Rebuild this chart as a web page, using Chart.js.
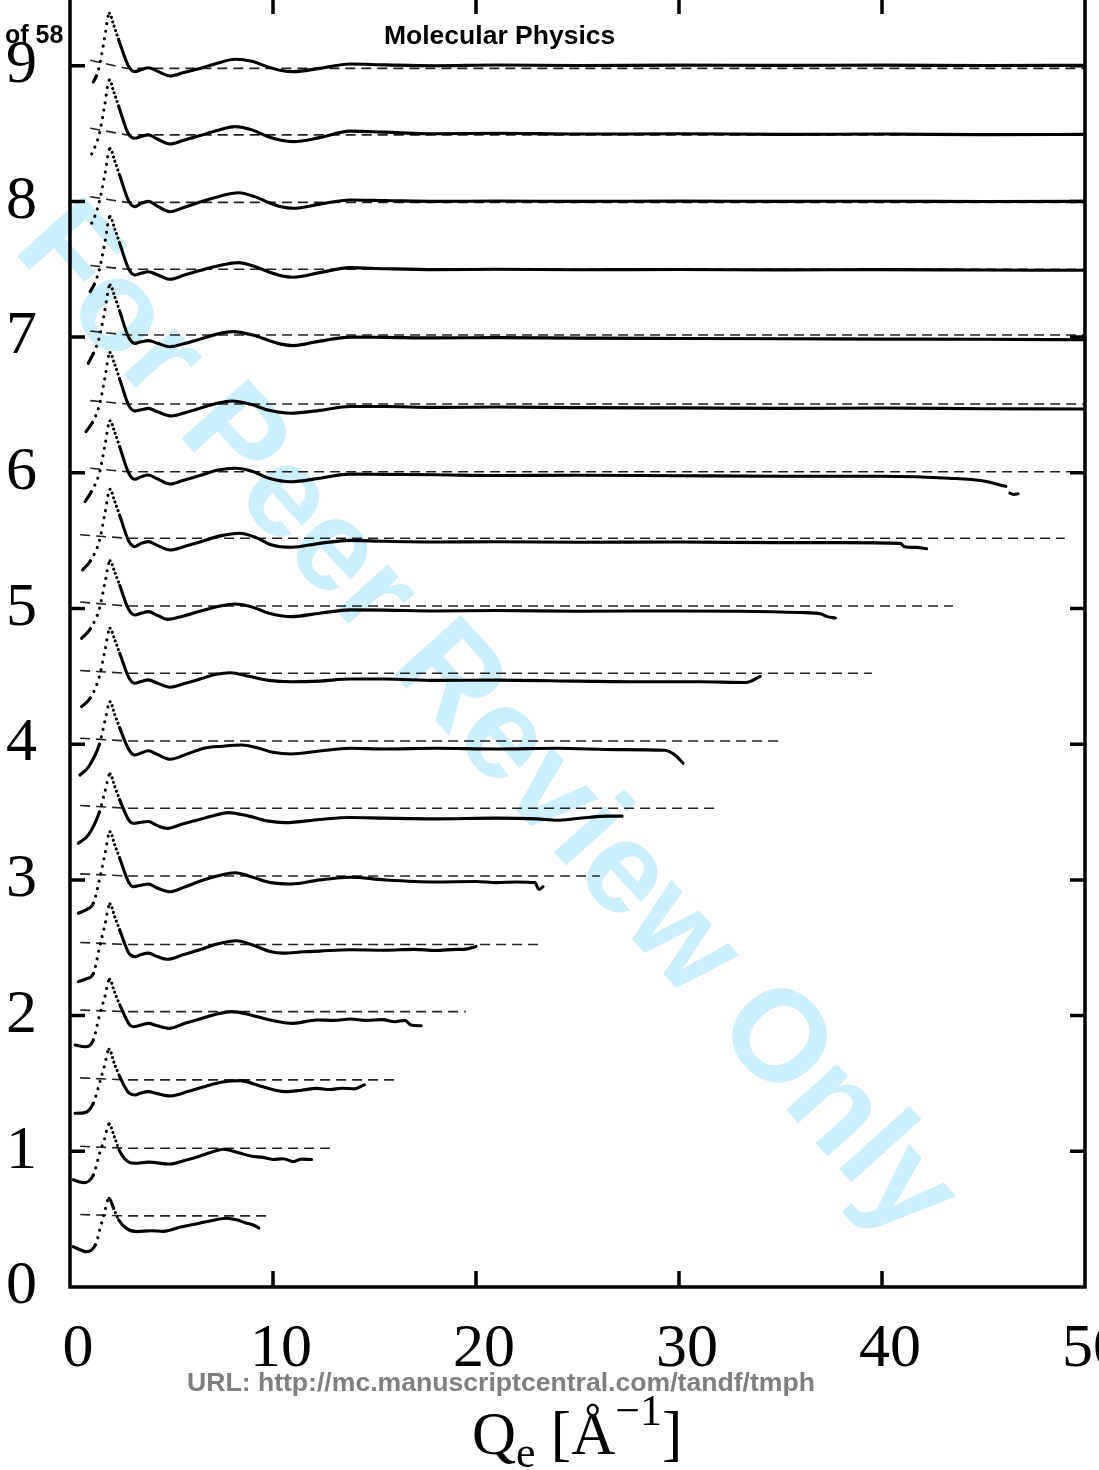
<!DOCTYPE html>
<html>
<head>
<meta charset="utf-8">
<script src="https://cdn.jsdelivr.net/npm/chart.js@4.4.1/dist/chart.umd.min.js"></script>
<style>
  html, body { margin: 0; padding: 0; background: #fff; overflow: hidden; }
  #wrap { position: relative; width: 1099px; height: 1470px; }
  #chart { position: absolute; left: 0; top: 0; z-index: 1; }
  .txt { position: absolute; white-space: nowrap; z-index: 2; }
  #mark {
    position: absolute; z-index: 0; left: 492px; top: 716px;
    font: bold 130px "Liberation Sans", Arial, sans-serif; color: rgb(205, 238, 252);
    transform: translate(-50%, -50%) rotate(48deg); white-space: nowrap;
  }
  #page { left: 5px; top: 20px; font: bold 25px "Liberation Sans", Arial, sans-serif; }
  #journal { left: 384px; top: 20px; font: bold 26.5px "Liberation Sans", Arial, sans-serif; }
  #url { left: 187px; top: 1367px; font: bold 26.6px "Liberation Sans", Arial, sans-serif; color: #7f7f7f; }
  #xtitle { left: 472px; top: 1385px; font: 61px "Liberation Serif", "Times New Roman", serif; }
  #xtitle sub { font-size: 44px; vertical-align: -13px; }
  #xtitle sup { font-size: 44px; vertical-align: 29px; }
</style>
</head>
<body>
<div id="wrap">
  <div id="mark">For Peer Review Only</div>
  <canvas id="chart" width="1099" height="1470"></canvas>
  <div class="txt" id="page">of 58</div>
  <div class="txt" id="journal">Molecular Physics</div>
  <div class="txt" id="url">URL: http://mc.manuscriptcentral.com/tandf/tmph</div>
  <div class="txt" id="xtitle">Q<sub>e</sub> [Å<sup>−1</sup>]</div>
</div>
<script>
// vertical offset of each structure-factor curve (bottom to top)
const offsets = [0.5, 1.0, 1.5, 2.0, 2.5, 3.0, 3.5, 4.0, 4.5, 5.0, 5.5, 6.0, 6.5, 7.0, 7.5, 8.0, 8.5, 9.0];

// reference (dashed) level of each curve, its lift at the left end, and its Q range
const dashLevels = [0.524, 1.022, 1.526, 2.029, 2.524, 3.029, 3.528, 4.024, 4.523, 5.018, 5.518, 6.008, 6.507, 7.015, 7.5, 7.993, 8.49, 8.98];
const dashLift = [0.01, 0.015, 0.015, 0.012, 0.015, 0.015, 0.02, 0.02, 0.02, 0.03, 0.025, 0.025, 0.025, 0.03, 0.027, 0.041, 0.049, 0.06];
const dashStartQ = [0.5, 0.5, 0.5, 0.5, 0.5, 0.5, 0.5, 0.5, 0.5, 0.5, 0.5, 1.0, 1.0, 1.0, 1.0, 1.0, 1.0, 1.0];
const dashEndQ = [9.95, 12.8, 16.0, 19.5, 23.05, 26.1, 31.8, 35.0, 39.5, 43.5, 49.0, 50, 50, 50, 50, 50, 50, 50];

// [Q, S(Q) - offset] for each curve
const curve05 = [[0.16,-0.203],[0.82,-0.24],[1.25,-0.19],[1.5,-0.06],[1.7,0.05],[1.92,0.154],[2.15,0.08],[2.4,-0.006],[2.8,-0.07],[3.28,-0.092],[4.0,-0.085],[4.6,-0.09],[5.4,-0.06],[6.2,-0.035],[7.0,-0.01],[7.7,0.007],[8.2,-0.005],[8.6,-0.025],[9.03,-0.043],[9.3,-0.065]];
const curve10 = [[0.16,-0.21],[0.66,-0.231],[1.15,-0.175],[1.45,-0.02],[1.7,0.09],[1.92,0.2],[2.2,0.1],[2.45,0.0],[2.9,-0.08],[3.2,-0.088],[3.86,-0.08],[4.93,-0.094],[5.6,-0.07],[6.3,-0.04],[7.0,-0.005],[7.55,0.015],[8.3,-0.01],[8.9,-0.035],[9.5,-0.045],[10.0,-0.06],[10.5,-0.055],[11.0,-0.076],[11.4,-0.058],[11.9,-0.06]];
const curve15 = [[0.25,-0.22],[0.74,-0.215],[1.15,-0.146],[1.45,0.0],[1.7,0.13],[1.92,0.252],[2.2,0.14],[2.45,0.05],[2.9,-0.07],[3.2,-0.085],[3.5,-0.07],[3.86,-0.06],[4.3,-0.075],[4.93,-0.092],[5.8,-0.06],[6.7,-0.02],[7.5,0.01],[8.37,0.021],[9.4,-0.02],[10.6,-0.06],[11.4,-0.05],[12.15,-0.036],[12.8,-0.045],[13.4,-0.035],[14,-0.04],[14.5,-0.01]];
const curve20 = [[0.25,-0.217],[0.74,-0.23],[1.15,-0.18],[1.45,0.0],[1.72,0.14],[1.95,0.267],[2.2,0.17],[2.45,0.08],[2.9,-0.06],[3.1,-0.082],[3.5,-0.07],[3.86,-0.057],[4.3,-0.075],[4.93,-0.094],[5.6,-0.06],[6.4,-0.025],[7.2,0.01],[7.96,0.029],[8.9,0.005],[9.8,-0.03],[11.0,-0.057],[12.15,-0.032],[13.0,-0.035],[13.8,-0.025],[14.6,-0.035],[15.4,-0.03],[16.0,-0.045],[16.5,-0.035],[16.8,-0.07],[17.3,-0.075]];
const curve25 = [[0.41,-0.25],[0.8,-0.23],[1.15,-0.19],[1.45,0.0],[1.72,0.17],[1.97,0.323],[2.2,0.23],[2.45,0.13],[2.9,-0.04],[3.2,-0.066],[3.5,-0.05],[3.86,-0.04],[4.3,-0.065],[4.8,-0.085],[5.6,-0.05],[6.4,-0.015],[7.3,0.03],[8.2,0.052],[9.0,0.02],[9.8,-0.025],[10.5,-0.04],[11.5,-0.03],[12.3,-0.025],[13.8,-0.015],[15.5,-0.018],[17,-0.012],[18,-0.02],[19,-0.012],[19.5,-0.01],[20,0.01]];
const curve30 = [[0.41,-0.246],[0.8,-0.22],[1.15,-0.172],[1.45,0.0],[1.72,0.19],[1.97,0.355],[2.2,0.26],[2.45,0.16],[2.9,-0.02],[3.1,-0.05],[3.5,-0.04],[3.86,-0.03],[4.3,-0.06],[4.93,-0.087],[5.6,-0.055],[6.4,-0.01],[7.3,0.03],[8.13,0.053],[9.0,0.02],[9.9,-0.02],[10.9,-0.03],[12.3,0.0],[13.8,0.02],[15.5,0.0],[18,-0.015],[20,-0.012],[21,-0.02],[22,-0.015],[22.9,-0.02],[23.1,-0.07],[23.3,-0.05]];
const curve35 = [[0.41,-0.23],[0.9,-0.17],[1.45,0.0],[1.72,0.15],[1.97,0.281],[2.2,0.19],[2.45,0.09],[2.9,-0.06],[3.1,-0.083],[3.5,-0.075],[3.86,-0.07],[4.3,-0.1],[4.8,-0.12],[5.5,-0.09],[6.3,-0.058],[7.0,-0.03],[7.8,-0.004],[8.8,-0.03],[9.7,-0.065],[10.6,-0.078],[12.3,-0.055],[13.8,-0.04],[15.5,-0.045],[18,-0.05],[21,-0.045],[23,-0.05],[24,-0.06],[25,-0.048],[26.5,-0.03],[27.2,-0.03]];
const curve40 = [[0.49,-0.227],[0.9,-0.17],[1.45,0.0],[1.72,0.17],[1.97,0.313],[2.2,0.22],[2.45,0.12],[2.9,-0.04],[3.2,-0.08],[3.5,-0.065],[3.86,-0.048],[4.3,-0.075],[4.93,-0.111],[5.8,-0.07],[6.6,-0.03],[7.5,-0.015],[8.45,-0.006],[9.3,-0.03],[10.0,-0.06],[10.9,-0.072],[12.3,-0.05],[13.8,-0.03],[15.5,-0.035],[18,-0.03],[21,-0.035],[24,-0.03],[27,-0.04],[29.3,-0.045],[29.8,-0.08],[30.2,-0.14]];
const curve45 = [[0.57,-0.223],[1.0,-0.16],[1.45,0.0],[1.72,0.19],[1.97,0.354],[2.2,0.27],[2.45,0.17],[2.9,-0.01],[3.2,-0.051],[3.5,-0.038],[3.86,-0.026],[4.3,-0.05],[4.93,-0.08],[5.6,-0.055],[6.4,-0.02],[7.2,0.015],[7.9,0.027],[8.8,0.0],[9.8,-0.03],[10.9,-0.04],[12.3,-0.035],[13.8,-0.02],[15.5,-0.02],[18,-0.03],[21,-0.028],[25,-0.035],[28,-0.04],[31,-0.04],[33.3,-0.045],[34,0.0]];
const curve50 = [[0.57,-0.22],[1.0,-0.15],[1.45,0.0],[1.72,0.19],[1.97,0.352],[2.2,0.27],[2.45,0.17],[2.9,-0.01],[3.2,-0.048],[3.5,-0.035],[3.86,-0.023],[4.3,-0.05],[4.8,-0.08],[5.6,-0.055],[6.4,-0.02],[7.3,0.015],[8.13,0.033],[9.0,0.01],[9.8,-0.035],[10.9,-0.06],[12.3,-0.035],[13.8,-0.01],[15.5,-0.012],[18,-0.018],[21,-0.015],[25,-0.02],[30,-0.018],[33,-0.02],[36,-0.03],[37.0,-0.04],[37.3,-0.06],[37.7,-0.07]];
const curve55 = [[0.62,-0.216],[1.0,-0.15],[1.45,0.0],[1.72,0.2],[1.97,0.379],[2.2,0.29],[2.45,0.185],[2.9,-0.005],[3.2,-0.044],[3.5,-0.02],[3.86,-0.007],[4.3,-0.035],[4.93,-0.069],[5.6,-0.045],[6.4,-0.01],[7.4,0.035],[8.37,0.054],[9.2,0.02],[9.9,-0.03],[10.9,-0.049],[12.3,-0.02],[13.8,0.002],[15.5,-0.005],[18,-0.01],[21,-0.008],[25,-0.012],[30,-0.01],[35,-0.015],[38,-0.015],[40.9,-0.02],[41.1,-0.045],[41.7,-0.05],[42.2,-0.06]];
const curve60 = [[0.74,-0.213],[1.05,-0.14],[1.45,0.0],[1.72,0.2],[1.97,0.384],[2.2,0.3],[2.45,0.19],[2.9,-0.005],[3.2,-0.048],[3.5,-0.03],[3.86,-0.016],[4.3,-0.045],[4.93,-0.083],[5.6,-0.055],[6.4,-0.02],[7.3,0.02],[8.13,0.033],[9.0,0.01],[9.8,-0.04],[10.9,-0.066],[12.3,-0.04],[13.8,-0.01],[15.5,-0.012],[18,-0.015],[21,-0.02],[25,-0.018],[30,-0.022],[35,-0.025],[40,-0.026],[43.3,-0.04],[45,-0.06],[46.1,-0.1],[46.2,null],[46.3,-0.15],[46.5,-0.16],[46.7,-0.155]];
const curve65 = [[0.79,-0.197],[1.1,-0.13],[1.45,0.0],[1.72,0.2],[1.97,0.386],[2.2,0.3],[2.45,0.19],[2.9,-0.005],[3.2,-0.044],[3.5,-0.035],[3.86,-0.025],[4.3,-0.05],[5.0,-0.081],[5.7,-0.055],[6.4,-0.025],[7.2,0.01],[7.96,0.029],[8.9,0.005],[9.8,-0.04],[10.9,-0.061],[12.3,-0.04],[13.8,-0.012],[15.5,-0.012],[18,-0.018],[21,-0.015],[25,-0.02],[30,-0.022],[35,-0.025],[40,-0.023],[45,-0.028],[50,-0.03]];
const curve70 = [[0.9,-0.193],[1.15,-0.12],[1.45,0.0],[1.72,0.2],[1.97,0.384],[2.2,0.3],[2.45,0.19],[2.9,-0.005],[3.2,-0.046],[3.5,-0.035],[3.86,-0.026],[4.3,-0.045],[4.93,-0.071],[5.6,-0.05],[6.4,-0.015],[7.2,0.02],[8.0,0.04],[9.0,0.015],[9.8,-0.025],[10.4,-0.052],[11.0,-0.063],[12.3,-0.03],[13.8,0.0],[15.5,-0.002],[18,-0.006],[21,-0.004],[25,-0.008],[30,-0.01],[35,-0.012],[40,-0.015],[45,-0.016],[50,-0.02]];
const curve75 = [[0.99,-0.165],[1.2,-0.11],[1.45,0.0],[1.72,0.2],[1.97,0.388],[2.2,0.3],[2.45,0.19],[2.9,0.0],[3.2,-0.042],[3.5,-0.03],[3.86,-0.018],[4.3,-0.04],[4.93,-0.074],[5.6,-0.045],[6.4,-0.01],[7.3,0.025],[8.3,0.049],[9.1,0.02],[9.8,-0.02],[10.4,-0.048],[11.0,-0.059],[12.3,-0.025],[13.8,0.012],[15.5,0.004],[18,-0.003],[21,0.0],[25,-0.004],[30,-0.002],[35,-0.005],[40,-0.003],[45,-0.006],[50,-0.008]];
const curve80 = [[1.07,-0.16],[1.25,-0.1],[1.45,0.0],[1.72,0.2],[1.97,0.39],[2.2,0.3],[2.45,0.19],[2.9,0.0],[3.2,-0.039],[3.5,-0.015],[3.86,0.0],[4.3,-0.035],[4.93,-0.076],[5.6,-0.045],[6.4,-0.005],[7.3,0.035],[8.3,0.064],[9.1,0.035],[9.8,-0.01],[10.4,-0.04],[11.0,-0.051],[12.3,-0.02],[13.8,0.01],[15.5,0.006],[18,0.0],[21,0.003],[25,0.0],[30,0.002],[35,0.0],[40,0.001],[45,-0.001],[50,0.0]];
const curve85 = [[1.07,-0.15],[1.25,-0.09],[1.45,0.0],[1.7,0.2],[1.94,0.395],[2.15,0.31],[2.4,0.2],[2.87,0.0],[3.2,-0.035],[3.5,-0.022],[3.86,-0.01],[4.3,-0.04],[4.93,-0.077],[5.6,-0.05],[6.4,-0.015],[7.3,0.025],[8.13,0.051],[9.0,0.025],[9.7,-0.02],[10.4,-0.05],[11.0,-0.06],[12.3,-0.03],[13.8,0.018],[15.5,0.01],[18,-0.002],[21,0.002],[25,-0.004],[30,-0.002],[35,-0.006],[40,-0.004],[45,-0.008],[50,-0.006]];
const curve90 = [[1.15,-0.12],[1.3,-0.075],[1.45,0.0],[1.7,0.2],[1.94,0.386],[2.15,0.3],[2.4,0.19],[2.87,0.0],[3.2,-0.044],[3.5,-0.03],[3.86,-0.015],[4.3,-0.04],[4.93,-0.076],[5.6,-0.05],[6.4,-0.02],[7.3,0.02],[8.13,0.047],[9.0,0.03],[9.7,-0.007],[10.4,-0.035],[11.0,-0.044],[12.3,-0.02],[13.8,0.012],[15.5,0.006],[18,0.0],[21,0.005],[25,0.001],[30,0.004],[35,0.002],[40,0.004],[45,0.001],[50,0.003]];

const curves = [curve05, curve10, curve15, curve20, curve25, curve30, curve35, curve40, curve45,
                curve50, curve55, curve60, curve65, curve70, curve75, curve80, curve85, curve90];

const xTicks = [0, 10, 20, 30, 40, 50];
const yTicks = [0, 1, 2, 3, 4, 5, 6, 7, 8, 9];

const datasets = [];
curves.forEach((c, i) => {
  datasets.push({
    data: c.map(([q, d]) => ({ x: q, y: d === null ? null : offsets[i] + d })),
    borderColor: '#000',
    borderWidth: 3.1,
    borderCapStyle: 'round',
    borderJoinStyle: 'round',
    pointRadius: 0,
    cubicInterpolationMode: 'monotone',
    spanGaps: false,
    order: 0,
    segment: {
      // sparse points on the steep flanks of the first peak show as dots
      borderDash: ctx => {
        const dx = ctx.p1.x - ctx.p0.x;
        const dy = ctx.p0.y - ctx.p1.y;
        if (!(dx > 0 && Math.abs(dy) / dx > 2.2)) return undefined;
        if (dy > 0) return [0.1, 7.5];
        return ctx.p0.parsed.x < 2.3 ? [0.1, 4.5] : undefined;
      }
    }
  });
  datasets.push({
    data: [
      { x: dashStartQ[i], y: dashLevels[i] + dashLift[i] },
      { x: 2.8, y: dashLevels[i] },
      { x: dashEndQ[i], y: dashLevels[i] }
    ],
    borderColor: '#222',
    borderWidth: 1.6,
    borderDash: [10, 6],
    pointRadius: 0,
    tension: 0,
    order: 1
  });
});

// frame and inward tick marks on all four sides
const framePlugin = {
  id: 'frame',
  afterDatasetsDraw(chart) {
    const { ctx, chartArea: a, scales: { x, y } } = chart;
    ctx.save();
    ctx.strokeStyle = '#000';
    ctx.lineWidth = 3.5;
    ctx.lineCap = 'butt';
    ctx.beginPath();
    ctx.moveTo(a.left, a.top - 5);
    ctx.lineTo(a.left, a.bottom);
    ctx.lineTo(a.right, a.bottom);
    ctx.lineTo(a.right, a.top - 5);
    xTicks.slice(1, -1).forEach(v => {
      const px = x.getPixelForValue(v);
      ctx.moveTo(px, a.bottom); ctx.lineTo(px, a.bottom - 16);
      ctx.moveTo(px, a.top); ctx.lineTo(px, a.top + 14);
    });
    yTicks.slice(1).forEach(v => {
      const py = y.getPixelForValue(v);
      ctx.moveTo(a.left, py); ctx.lineTo(a.left + 15, py);
      ctx.moveTo(a.right, py); ctx.lineTo(a.right - 15, py);
    });
    ctx.stroke();
    ctx.restore();
  }
};

new Chart(document.getElementById('chart'), {
  type: 'line',
  data: { datasets },
  options: {
    responsive: false,
    animation: false,
    events: [],
    layout: { padding: { left: 0, right: 14, top: 0, bottom: 0 } },
    plugins: { legend: { display: false }, tooltip: { enabled: false } },
    scales: {
      x: {
        type: 'linear', min: 0, max: 50,
        border: { display: false },
        grid: { display: false, drawTicks: false },
        afterBuildTicks: s => { s.ticks = xTicks.map(v => ({ value: v })); },
        afterFit: s => { s.height = 183; s.paddingLeft = 0; s.paddingRight = 0; },
        ticks: {
          color: '#000', padding: 26, labelOffset: 8, maxRotation: 0, autoSkip: false,
          font: { family: '"Liberation Serif", "Times New Roman", serif', size: 62 }
        }
      },
      y: {
        type: 'linear', min: 0, max: 9.484,
        border: { display: false },
        grid: { display: false, drawTicks: false },
        afterBuildTicks: s => { s.ticks = yTicks.map(v => ({ value: v })); },
        afterFit: s => { s.width = 70; s.paddingTop = 0; s.paddingBottom = 0; },
        ticks: {
          color: '#000', padding: 33, autoSkip: false,
          font: { family: '"Liberation Serif", "Times New Roman", serif', size: 62 }
        }
      }
    }
  },
  plugins: [framePlugin]
});
</script>
</body>
</html>
